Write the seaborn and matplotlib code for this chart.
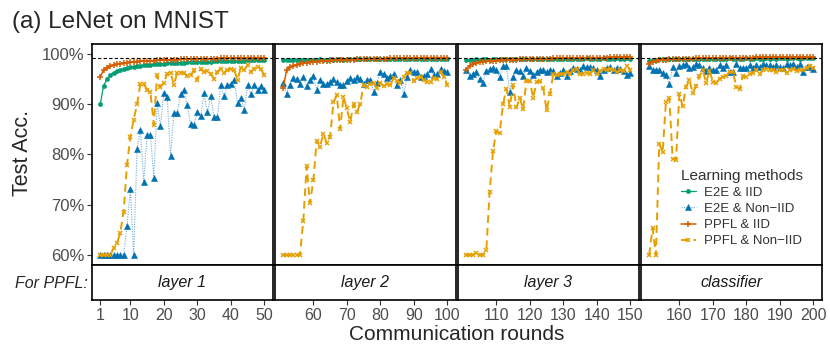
import pandas as pd
import numpy as np
import seaborn as sns
import matplotlib.pyplot as plt
from matplotlib.lines import Line2D

sns.set_style("white")
plt.rcParams['font.family'] = ['Liberation Sans', 'DejaVu Sans']

# data
rounds = list(range(1, 201))
panel_labels = ["layer 1", "layer 2", "layer 3", "classifier"]
panel_ticks = [[1, 10, 20, 30, 40, 50], [60, 70, 80, 90, 100],
               [110, 120, 130, 140, 150], [160, 170, 180, 190, 200]]
methods = ["E2E & IID", "E2E & Non\u2212IID", "PPFL & IID", "PPFL & Non\u2212IID"]

e2e_iid = [
    89.9, 93.6, 94.9, 95.7, 96.2, 96.5, 96.8, 97.0, 97.2, 97.3,
    97.4, 97.5, 97.6, 97.7, 97.8, 97.8, 97.9, 97.9, 98.0, 98.0,
    98.1, 98.1, 98.1, 98.2, 98.2, 98.2, 98.3, 98.3, 98.3, 98.3,
    98.4, 98.4, 98.4, 98.4, 98.5, 98.5, 98.5, 98.5, 98.5, 98.6,
    98.6, 98.6, 98.6, 98.6, 98.7, 98.7, 98.7, 98.7, 98.7, 98.7,
    98.7, 98.7, 98.8, 98.7, 98.8, 98.8, 98.8, 98.7, 98.8, 98.8,
    98.8, 98.9, 98.8, 98.8, 98.9, 98.8, 98.9, 98.9, 98.8, 98.9,
    98.9, 98.9, 98.9, 98.9, 98.9, 98.9, 98.9, 99.0, 98.9, 98.9,
    99.0, 98.9, 99.0, 99.0, 98.9, 99.0, 99.0, 99.0, 99.0, 98.9,
    99.0, 99.0, 99.0, 99.0, 99.0, 99.0, 99.0, 99.0, 99.0, 99.0,
    98.8, 98.8, 98.8, 98.9, 98.8, 98.9, 98.9, 98.8, 98.9, 98.9,
    98.9, 98.9, 98.9, 98.9, 98.9, 99.0, 98.9, 98.9, 99.0, 98.9,
    99.0, 99.0, 98.9, 99.0, 99.0, 99.0, 99.0, 99.0, 99.0, 99.0,
    99.0, 99.0, 99.0, 99.0, 99.0, 99.0, 99.1, 99.0, 99.0, 99.0,
    99.0, 99.1, 99.0, 99.0, 99.0, 99.1, 99.0, 99.0, 99.1, 99.0,
    98.6, 98.8, 98.8, 98.9, 98.9, 98.9, 98.9, 98.9, 99.0, 98.9,
    99.0, 99.0, 99.0, 99.0, 99.0, 99.0, 99.0, 99.0, 99.0, 99.0,
    99.0, 99.0, 99.0, 99.0, 99.1, 99.0, 99.0, 99.0, 99.0, 99.1,
    99.0, 99.0, 99.1, 99.0, 99.0, 99.1, 99.0, 99.1, 99.0, 99.1,
    99.1, 99.0, 99.1, 99.1, 99.1, 99.0, 99.1, 99.1, 99.1, 99.1,
]

e2e_noniid = [
    60.0, 60.0, 60.0, 60.0, 60.0, 60.0, 60.0, 60.0, 65.8, 73.1,
    60.0, 81.1, 84.9, 74.5, 83.9, 83.9, 75.3, 90.2, 85.6, 92.2,
    91.4, 79.6, 88.1, 88.1, 91.9, 92.7, 89.7, 86.1, 85.9, 88.3,
    87.6, 92.2, 88.3, 91.5, 87.3, 87.3, 93.7, 91.5, 93.7, 94.0,
    94.7, 90.2, 91.2, 88.7, 93.7, 91.9, 93.7, 92.8, 93.5, 92.8,
    94.2, 92.0, 93.8, 95.2, 95.0, 94.0, 95.4, 93.5, 94.7, 95.6,
    92.7, 94.8, 93.9, 93.9, 94.3, 94.9, 94.3, 93.8, 93.8, 94.5,
    95.2, 94.8, 95.4, 95.0, 94.0, 94.8, 94.8, 92.4, 94.2, 96.4,
    95.9, 95.2, 95.5, 96.0, 93.8, 94.8, 91.9, 95.4, 96.7, 96.4,
    96.4, 95.4, 95.5, 95.9, 96.9, 95.7, 96.0, 96.9, 96.6, 96.4,
    96.7, 95.5, 95.9, 96.4, 95.0, 94.2, 96.6, 97.0, 97.1, 96.7,
    95.4, 97.5, 97.5, 92.4, 95.4, 96.7, 96.6, 95.6, 97.2, 96.6,
    95.8, 96.4, 96.8, 96.8, 96.4, 96.8, 96.5, 95.5, 96.2, 96.7,
    95.6, 96.6, 97.2, 97.0, 96.7, 97.5, 97.3, 97.3, 97.1, 96.8,
    95.5, 96.8, 97.2, 97.3, 96.8, 97.2, 97.0, 96.6, 95.8, 96.2,
    97.5, 96.7, 96.8, 96.7, 96.2, 95.7, 93.9, 97.3, 96.2, 97.5,
    97.7, 97.9, 97.2, 97.3, 97.9, 97.7, 97.2, 96.6, 97.2, 96.7,
    96.7, 97.7, 97.2, 97.7, 96.4, 96.4, 98.0, 97.2, 97.2, 97.2,
    97.7, 97.2, 97.7, 97.3, 97.9, 97.7, 97.7, 97.3, 97.7, 97.3,
    97.2, 97.9, 97.7, 98.0, 97.3, 97.9, 96.4, 97.3, 97.3, 97.0,
]

ppfl_iid = [
    95.4, 96.7, 97.2, 97.5, 97.7, 97.9, 98.0, 98.1, 98.2, 98.3,
    98.4, 98.4, 98.5, 98.5, 98.6, 98.6, 98.6, 98.7, 98.7, 98.7,
    98.8, 98.8, 98.8, 98.8, 98.9, 98.9, 98.9, 98.9, 98.9, 99.0,
    99.0, 99.0, 99.0, 99.0, 99.0, 99.0, 99.1, 99.1, 99.1, 99.1,
    99.1, 99.1, 99.1, 99.1, 99.2, 99.2, 99.2, 99.2, 99.2, 99.2,
    93.2, 96.7, 97.3, 97.6, 97.8, 98.0, 98.1, 98.2, 98.3, 98.4,
    98.4, 98.5, 98.5, 98.6, 98.6, 98.7, 98.7, 98.7, 98.8, 98.8,
    98.8, 98.8, 98.9, 98.9, 98.9, 98.9, 99.0, 99.0, 99.0, 99.0,
    99.0, 99.0, 99.1, 99.1, 99.1, 99.1, 99.1, 99.1, 99.1, 99.1,
    99.2, 99.2, 99.2, 99.2, 99.2, 99.2, 99.2, 99.2, 99.2, 99.2,
    96.7, 97.6, 97.9, 98.1, 98.3, 98.4, 98.5, 98.5, 98.6, 98.6,
    98.7, 98.7, 98.7, 98.8, 98.8, 98.8, 98.9, 98.9, 98.9, 98.9,
    99.0, 99.0, 99.0, 99.0, 99.0, 99.0, 99.1, 99.1, 99.1, 99.1,
    99.1, 99.1, 99.1, 99.1, 99.2, 99.2, 99.2, 99.2, 99.2, 99.2,
    99.2, 99.2, 99.2, 99.3, 99.3, 99.3, 99.3, 99.3, 99.3, 99.3,
    98.0, 98.4, 98.6, 98.7, 98.8, 98.8, 98.9, 98.9, 98.9, 99.0,
    99.0, 99.0, 99.0, 99.0, 99.1, 99.1, 99.1, 99.1, 99.1, 99.1,
    99.1, 99.2, 99.2, 99.2, 99.2, 99.2, 99.2, 99.2, 99.2, 99.2,
    99.2, 99.2, 99.3, 99.3, 99.3, 99.3, 99.3, 99.3, 99.3, 99.3,
    99.3, 99.3, 99.3, 99.3, 99.3, 99.3, 99.3, 99.3, 99.3, 99.3,
]

ppfl_noniid = [
    60.0, 60.0, 60.0, 60.0, 61.3, 62.3, 64.4, 68.6, 77.9, 83.5,
    86.9, 89.9, 94.0, 94.0, 92.8, 92.3, 85.9, 95.7, 93.3, 94.2,
    96.0, 96.2, 93.8, 96.2, 96.2, 96.2, 95.5, 95.7, 96.7, 94.7,
    97.0, 96.4, 96.6, 96.0, 95.0, 96.4, 97.0, 96.2, 96.7, 97.0,
    96.7, 94.8, 97.2, 96.7, 97.7, 96.4, 97.0, 97.3, 96.9, 95.7,
    60.0, 60.0, 60.0, 60.0, 60.0, 60.0, 66.8, 77.6, 70.3, 74.8,
    82.7, 81.5, 84.1, 82.2, 83.5, 90.3, 91.7, 85.0, 91.4, 89.1,
    86.4, 89.9, 88.4, 90.0, 93.7, 93.4, 94.0, 94.2, 93.2, 94.2,
    93.5, 93.9, 93.7, 95.2, 94.6, 94.2, 95.4, 96.2, 96.2, 94.5,
    95.2, 95.4, 94.7, 94.4, 94.4, 95.2, 95.0, 96.4, 95.4, 93.8,
    60.0, 60.0, 60.0, 60.3, 60.0, 60.0, 60.9, 72.6, 80.6, 84.6,
    84.2, 90.0, 93.0, 89.4, 93.7, 89.3, 91.2, 88.9, 94.6, 94.6,
    91.2, 94.4, 94.6, 93.2, 88.7, 91.9, 95.9, 95.7, 95.9, 96.0,
    96.4, 96.0, 96.8, 97.0, 95.9, 95.9, 96.2, 96.0, 96.7, 95.9,
    96.6, 97.0, 96.8, 97.0, 96.7, 96.4, 96.7, 96.6, 97.5, 96.8,
    60.0, 65.3, 60.0, 82.1, 80.4, 90.4, 91.2, 79.1, 78.8, 92.0,
    89.5, 93.4, 94.8, 92.2, 93.5, 95.5, 96.7, 94.2, 96.6, 94.4,
    94.2, 95.0, 95.4, 95.5, 96.4, 96.4, 93.4, 93.0, 95.5, 95.4,
    95.9, 96.2, 96.7, 95.9, 96.8, 97.0, 96.7, 96.8, 96.4, 96.7,
    96.8, 96.2, 96.7, 97.0, 96.6, 96.7, 96.7, 97.2, 97.5, 97.2,
]

ref_line = 99.2

df = pd.DataFrame({"round": rounds * 4,
                   "acc": e2e_iid + e2e_noniid + ppfl_iid + ppfl_noniid,
                   "method": np.repeat(methods, 200)})

blue = "#0072B2"
styles = {
    methods[0]: dict(color="#009E73", marker="o", ms=3.0, mfc="#009E73", mec="#009E73",
                     mew=0.4, lw=0.9, ls="-"),
    methods[1]: dict(color=(0.45, 0.68, 0.84), marker="^", ms=4.0, mfc=blue, mec=blue,
                     mew=0.4, lw=0.8, ls=(0, (1, 1.2))),
    methods[2]: dict(color="#D55E00", marker="+", ms=4.5, mfc="#D55E00", mec="#D55E00",
                     mew=1.1, lw=1.1, ls="-"),
    methods[3]: dict(color="#E69F00", marker="x", ms=3.5, mfc="#E69F00", mec="#E69F00",
                     mew=1.1, lw=1.4, ls=(0, (4, 2.5))),
}

W, H = 830, 360
fig = plt.figure(figsize=(W / 100, H / 100), dpi=100)


def px_box(x0, y0, x1, y1):
    return [x0 / W, 1 - y1 / H, (x1 - x0) / W, (y1 - y0) / H]


panel_x = [(92, 272.5), (275, 455.5), (458, 638.5), (641, 821.5)]
tick_grey = "#4D4D4D"

for i, (x0, x1) in enumerate(panel_x):
    lo, hi = 1 + 50 * i, 50 + 50 * i
    ax = fig.add_axes(px_box(x0, 44, x1, 265))
    sub = df[(df["round"] >= lo) & (df["round"] <= hi)]
    for m in methods:
        d = sub[sub["method"] == m]
        sns.lineplot(x=d["round"].values, y=d["acc"].values, ax=ax,
                     estimator=None, **styles[m])
    ax.axhline(ref_line, color="black", lw=0.8, ls=(0, (3, 2)), zorder=5)
    ax.set_xlim(lo - 2.45, hi + 2.45)
    ax.set_ylim(58.0, 101.9)
    ax.set_xticks([])
    ax.set_xlabel("")
    ax.set_ylabel("")
    if i == 0:
        ax.set_yticks([60, 70, 80, 90, 100])
        ax.set_yticklabels(["60%", "70%", "80%", "90%", "100%"])
        ax.tick_params(axis="y", direction="out", length=3.5, width=0.8,
                       color="#333333", labelcolor=tick_grey, labelsize=12, pad=2, left=True)
    else:
        ax.set_yticks([])
    for s in ax.spines.values():
        s.set_color("black")
        s.set_linewidth(1.2)

    # strip under the panel
    sax = fig.add_axes(px_box(x0, 265, x1, 300))
    sax.set_xlim(lo - 2.45, hi + 2.45)
    sax.set_ylim(0, 1)
    sax.set_yticks([])
    sax.set_xticks(panel_ticks[i])
    sax.tick_params(axis="x", direction="out", length=3.5, width=0.8, color="#333333",
                    labelcolor=tick_grey, labelsize=11.5, pad=2, bottom=True)
    sax.text(0.5, 0.5, panel_labels[i], transform=sax.transAxes, ha="center",
             va="center", fontsize=11.5, style="italic", color="#1A1A1A")
    for s in sax.spines.values():
        s.set_color("black")
        s.set_linewidth(1.2)

fig.text(12 / W, 1 - 22 / H, "(a) LeNet on MNIST", fontsize=17.5, ha="left", va="center")
fig.text(22 / W, 1 - 153 / H, "Test Acc.", fontsize=15.5, rotation=90, ha="center", va="center")
fig.text(457 / W, 1 - 334 / H, "Communication rounds", fontsize=15, ha="center", va="center")
fig.text(88 / W, 1 - 283 / H, "For PPFL:", fontsize=11.5, style="italic", ha="right", va="center")

handles = [Line2D([], [], **styles[m]) for m in methods]
leg = fig.legend(handles, methods, title="Learning methods", loc="upper left",
                 bbox_to_anchor=(670 / W, 1 - 158 / H), fontsize=9.5, title_fontsize=11,
                 frameon=True, facecolor="white", edgecolor="none", framealpha=0.8,
                 handlelength=1.2, handletextpad=0.6, labelspacing=0.3,
                 alignment="left", borderpad=0.3)
for t in leg.get_texts():
    t.set_color("#333333")
leg.get_title().set_color("#333333")

fig.savefig("out.png", dpi=100)
